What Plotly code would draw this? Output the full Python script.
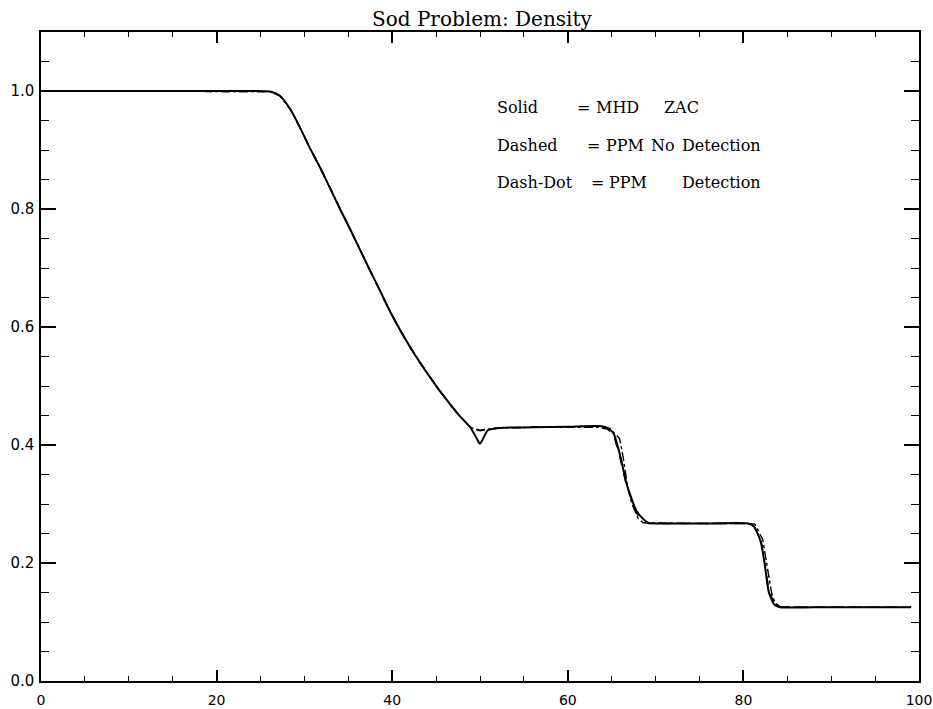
import plotly.graph_objects as go

# ---- data ----
x_rare = [0, 23.8, 26.1, 27.2, 28.4, 29.5, 30.6, 31.8, 32.9, 34.05, 35.2, 36.3, 37.5, 38.6, 39.7, 40.9,
          42.0, 43.2, 44.3, 45.4, 46.6, 47.7, 48.9]
y_rare = [1.0, 1.0, 0.999, 0.992, 0.969, 0.938, 0.904, 0.870, 0.836, 0.800, 0.766, 0.732, 0.695, 0.662,
          0.628, 0.595, 0.567, 0.539, 0.515, 0.492, 0.469, 0.449, 0.430]

x_solid_right = [49.6, 50.0, 50.9, 52.3, 56, 60, 63.5, 64.5, 65.2, 66.0, 66.7, 67.8, 68.5, 69.2, 72, 76,
                 80.5, 81.2, 82.0, 82.5, 82.9, 83.5, 84.2, 88, 92, 96, 99.1]
y_solid_right = [0.412, 0.402, 0.425, 0.429, 0.430, 0.431, 0.432, 0.429, 0.420, 0.380, 0.334, 0.289,
                 0.276, 0.268, 0.267, 0.267, 0.267, 0.262, 0.235, 0.190, 0.150, 0.130, 0.125, 0.125,
                 0.125, 0.125, 0.125]

x_dashed_right = [49.6, 50.0, 50.9, 52.3, 56, 60, 63.5, 64.5, 65.2, 66.0, 66.7, 67.8, 68.5, 69.2, 72, 76,
                  80.5, 81.2, 82.0, 82.5, 82.9, 83.5, 84.2, 88, 92, 96, 99.1]
y_dashed_right = [0.426, 0.425, 0.427, 0.429, 0.430, 0.431, 0.430, 0.427, 0.418, 0.375, 0.330, 0.285,
                  0.272, 0.267, 0.267, 0.267, 0.267, 0.262, 0.237, 0.195, 0.155, 0.132, 0.126, 0.125,
                  0.125, 0.125, 0.125]

x_dashdot_right = [49.6, 50.0, 50.9, 52.3, 56, 60, 63.5, 64.8, 65.9, 66.3, 66.8, 67.3, 68.0, 68.6, 72, 76,
                   80.5, 81.3, 82.2, 82.8, 83.2, 83.6, 84.2, 88, 92, 96, 99.1]
y_dashdot_right = [0.426, 0.424, 0.427, 0.429, 0.430, 0.430, 0.430, 0.428, 0.411, 0.380, 0.330, 0.300,
                   0.276, 0.268, 0.267, 0.267, 0.267, 0.266, 0.240, 0.190, 0.150, 0.132, 0.126, 0.125,
                   0.125, 0.125, 0.125]

x_solid = x_rare + x_solid_right
y_solid = y_rare + y_solid_right
x_dashed = x_rare + x_dashed_right
y_dashed = y_rare + y_dashed_right
x_dashdot = x_rare + x_dashdot_right
y_dashdot = y_rare + y_dashdot_right

title_text = "Sod Problem: Density"
legend_lines = [
    [("Solid", 498), ("=", 578), ("MHD", 597), ("ZAC", 665)],
    [("Dashed", 498), ("=", 588), ("PPM", 607), ("No", 652), ("Detection", 683)],
    [("Dash-Dot", 498), ("=", 592), ("PPM", 610), ("Detection", 683)],
]
legend_rows_px = [108, 145, 182]

# ---- layout geometry ----
W, H = 933, 709
L, R, T, B = 41, 14, 32, 28
X0, X1 = 0, 100
Y0, Y1 = 0, 1.1

fig = go.Figure()
fig.add_trace(go.Scatter(x=x_dashed, y=y_dashed, mode="lines",
                         line=dict(color="black", width=1.4, dash="dash"), name="Dashed"))
fig.add_trace(go.Scatter(x=x_dashdot, y=y_dashdot, mode="lines",
                         line=dict(color="black", width=1.4, dash="dashdot"), name="Dash-Dot"))
fig.add_trace(go.Scatter(x=x_solid, y=y_solid, mode="lines", line_shape="spline",
                         line=dict(color="black", width=2, smoothing=0.6), name="Solid"))

annotations = []
for row, ypx in zip(legend_lines, legend_rows_px):
    for txt, xpx in row:
        annotations.append(dict(
            x=(xpx - 3 - L) / (W - L - R), y=1 - (ypx - T) / (H - T - B),
            xref="paper", yref="paper", xanchor="left", yanchor="middle",
            text=txt, showarrow=False,
            font=dict(family="DejaVu Serif", size=16, color="black")))
annotations.append(dict(
    x=(482 - L) / (W - L - R), y=1 + (T - 19) / (H - T - B),
    xref="paper", yref="paper", xanchor="center", yanchor="middle",
    text=title_text, showarrow=False,
    font=dict(family="DejaVu Serif", size=20, color="black")))

axis_common = dict(showgrid=False, zeroline=False, showline=True, linecolor="black", linewidth=1.5,
                   mirror="ticks", ticks="inside", tickcolor="black", tickwidth=1.5, automargin=False)

fig.update_layout(
    width=W, height=H,
    margin=dict(l=L, r=R, t=T, b=B),
    paper_bgcolor="white", plot_bgcolor="white",
    showlegend=False,
    annotations=annotations,
    xaxis=dict(range=[X0, X1], dtick=20, tick0=0, ticklen=11, ticklabelstandoff=5,
               tickfont=dict(family="DejaVu Sans", size=14, color="black"),
               minor=dict(dtick=5, ticklen=5, ticks="inside", tickcolor="black", tickwidth=1.2),
               **axis_common),
    yaxis=dict(range=[Y0, Y1], dtick=0.2, tick0=0, tickformat=".1f", ticklen=15, ticklabelstandoff=2,
               tickfont=dict(family="DejaVu Sans", size=15, color="black"),
               minor=dict(dtick=0.05, ticklen=8, ticks="inside", tickcolor="black", tickwidth=1.2),
               **axis_common),
)

fig.write_html("out.html")
